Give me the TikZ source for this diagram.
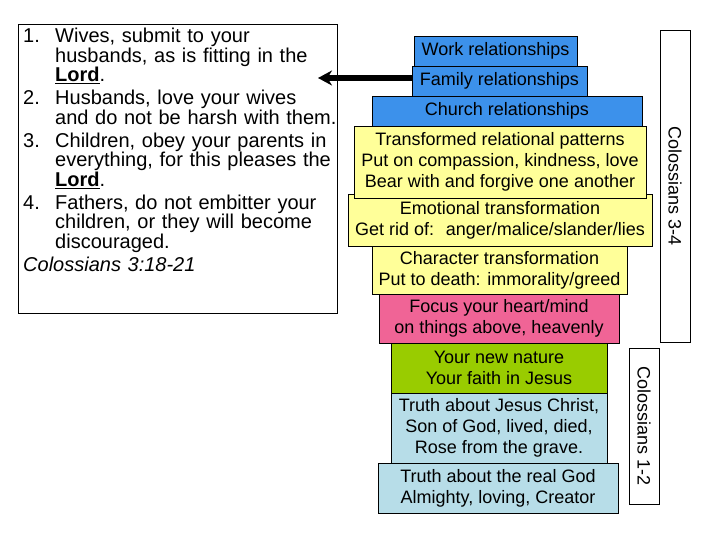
\documentclass[tikz,border=0pt]{standalone}
\usepackage{fontspec}
\setmainfont{Liberation Sans}
\usetikzlibrary{arrows.meta,positioning,shapes}

\definecolor{relblue}{RGB}{60,145,235}
\definecolor{paleyellow}{RGB}{255,255,153}
\definecolor{heartpink}{RGB}{240,100,150}
\definecolor{naturegreen}{RGB}{153,204,0}
\definecolor{truthblue}{RGB}{183,221,232}

\newcommand{\lordword}{\underline{\textbf{Lord}}}
\newcommand{\versenum}[1]{\hangindent=32pt\hangafter=1\makebox[32pt][l]{#1}}

\tikzset{
  layer/.style={draw,line width=0.75pt,inner sep=0pt,align=center,
    font=\fontsize{18}{21}\selectfont},
  refbox/.style={draw,line width=0.75pt,inner sep=0pt,rotate=-90,
    minimum height=30pt,font=\fontsize{18}{21}\selectfont},
}

\begin{document}
\begin{tikzpicture}[x=1pt,y=-1pt]
\useasboundingbox (0,0) rectangle (720,540);

% verses on the left
\node[draw,line width=0.75pt,anchor=north west,minimum width=319pt,minimum height=289pt] (frame) at (18,24) {};
\node[anchor=north west,inner sep=0pt,text width=340pt,font=\fontsize{20}{19.5}\selectfont] (verses) at (23,28) {%
\parindent=0pt\parskip=3.5pt\raggedright
\versenum{1.}Wives, submit to your\newline husbands, as is fitting in the\newline \lordword.\par
\versenum{2.}Husbands, love your wives\newline and do not be harsh with them.\par
\versenum{3.}Children, obey your parents in\newline everything, for this pleases the\newline \lordword.\par
\versenum{4.}Fathers, do not embitter your\newline children, or they will become\newline discouraged.\par
\textit{Colossians 3:18-21}};

% stacked layers
\node[layer,fill=relblue,minimum width=163pt,minimum height=30pt] (work) at (495.5,51) {Work relationships};
\node[layer,fill=relblue,minimum width=175pt,minimum height=30pt] (family) at (499.5,81) {Family relationships};
\node[layer,fill=relblue,minimum width=270pt,minimum height=30pt] (church) at (507,111) {Church relationships};
\node[layer,fill=paleyellow,minimum width=304pt,minimum height=52pt] (emotional) at (500,220) {Emotional transformation\\Get rid of:~ anger/malice/slander/lies};
\node[layer,fill=paleyellow,minimum width=292pt,minimum height=72pt] (patterns) at (500,162) {Transformed relational patterns\\Put on compassion, kindness, love\\Bear with and forgive one another};
\node[layer,fill=paleyellow,minimum width=255pt,minimum height=48pt] (character) at (499.5,270) {Character transformation\\Put to death: immorality/greed};
\node[layer,fill=heartpink,minimum width=240pt,minimum height=49pt] (focus) at (499,318.5) {Focus your heart/mind\\on things above, heavenly};
\node[layer,fill=naturegreen,minimum width=216pt,minimum height=50pt] (nature) at (499,368) {Your new nature\\Your faith in Jesus};
\node[layer,fill=truthblue,minimum width=216pt,minimum height=70pt] (jesus) at (499,428) {Truth about Jesus Christ,\\Son of God, lived, died,\\Rose from the grave.};
\node[layer,fill=truthblue,minimum width=240pt,minimum height=50pt] (god) at (498,488) {Truth about the real God\\Almighty, loving, Creator};

% scripture ranges
\node[refbox,minimum width=312pt] (col34) at (675,186) {Colossians 3-4};
\node[refbox,minimum width=156pt] (col12) at (644,426) {Colossians 1-2};

% arrow to the verses
\coordinate (tip) at (318,78);
\draw[-{Stealth[length=14pt,width=15pt]},line width=6pt] (family.west |- tip) -- (tip);
\end{tikzpicture}
\end{document}
